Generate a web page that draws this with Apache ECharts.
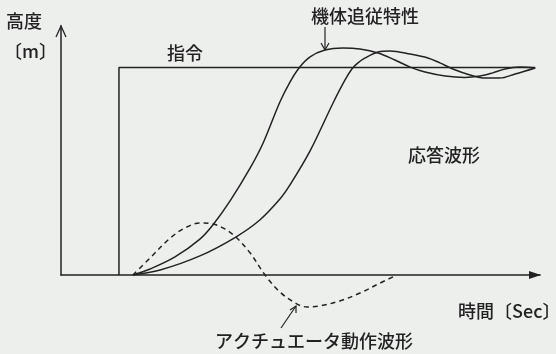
<!DOCTYPE html>
<html><head><meta charset="utf-8">
<script src="https://cdn.jsdelivr.net/npm/echarts@6/dist/echarts.min.js"></script>
<style>html,body{margin:0;padding:0;background:#edefed}#c{width:556px;height:354px}</style>
</head><body><div id="c"></div>
<script>
// time axis (arbitrary units 0..100), height axis (command level = 10)
const commandX = [12.1, 12.1, 99.0];
const commandY = [0, 10, 10];

const trackX = [15.0,18.6,23.8,29.0,31.7,35.3,39.5,42.2,45.7,47.8,49.7,52.0,55.1,58.9,62.4,66.2,69.7,72.9,76.0,80.2,84.3,87.5,90.0,92.7,95.8,99.0];
const trackY = [0,0.29,0.87,1.73,2.41,3.57,5.16,6.36,8.34,9.30,9.98,10.51,10.84,10.94,10.89,10.70,10.36,10.02,9.78,9.59,9.52,9.59,9.73,9.93,10.02,9.98];

const respX = [15.0,20.7,29.0,36.5,41.5,45.7,47.8,52.0,56.8,59.3,60.8,62.0,63.5,66.2,68.7,72.9,76.6,79.1,81.8,85.4,88.5,91.6,94.8,99.0];
const respY = [0,0.24,0.92,1.83,2.65,3.66,4.34,5.98,8.29,9.40,9.95,10.22,10.46,10.75,10.80,10.65,10.46,10.22,9.93,9.64,9.49,9.49,9.69,9.98];

const actX = [15.0,18.6,22.8,25.9,29.0,31.7,34.2,36.5,39.5,42.6,45.7,49.3,51.4,54.1,58.2,62.4,66.6,69.7];
const actY = [0,0.82,1.78,2.27,2.51,2.46,2.22,1.83,1.06,0,-0.82,-1.40,-1.54,-1.49,-1.25,-0.87,-0.39,-0.05];

const labels = {
  yName: '高度', yUnit: '〔m〕', xName: '時間〔Sec〕',
  command: '指令', track: '機体追従特性', resp: '応答波形', act: 'アクチュエータ動作波形'
};

const zip = (xs, ys) => xs.map((x, i) => [x, ys[i]]);
const ink = '#222';
const font = '"Noto Sans CJK JP", "Noto Sans CJK SC", sans-serif';

const chart = echarts.init(document.getElementById('c'));
const txt = (x, y, s, size) => ({type:'text', left:x, top:y, style:{text:s, fill:ink, font: '500 ' + size + 'px ' + font}});
const curve = {type:'line', symbol:'none', smooth:0.35};

chart.setOption({
  backgroundColor: '#edefed',
  animation: false,
  grid: {left: 61, right: 16, top: 26, bottom: 79},
  xAxis: {type:'value', min:0, max:100, axisLine:{lineStyle:{color:ink, width:1.5}}, axisTick:{show:false}, axisLabel:{show:false}, splitLine:{show:false}},
  yAxis: {type:'value', min:0, max:12, axisLine:{show:true, lineStyle:{color:ink, width:1.5}}, axisTick:{show:false}, axisLabel:{show:false}, splitLine:{show:false}},
  series: [
    {type:'line', data: zip(commandX, commandY), symbol:'none', lineStyle:{color:ink, width:1.5}},
    Object.assign({}, curve, {data: zip(trackX, trackY), lineStyle:{color:ink, width:1.5}}),
    Object.assign({}, curve, {data: zip(respX, respY), lineStyle:{color:ink, width:1.5}}),
    Object.assign({}, curve, {data: zip(actX, actY), clip:false, lineStyle:{color:ink, width:1.5, type:[5,4]}})
  ],
  graphic: [
    {type:'polyline', shape:{points:[[56,37],[61,26],[66,37]]}, style:{stroke:ink, lineWidth:1.3, fill:null}},
    {type:'polygon', shape:{points:[[541,275],[529,271],[529,279]]}, style:{fill:ink}},
    {type:'polyline', shape:{points:[[325,27],[325,50]]}, style:{stroke:ink, lineWidth:1.2, fill:null}},
    {type:'polyline', shape:{points:[[321,43],[325,50],[329,43]]}, style:{stroke:ink, lineWidth:1.2, fill:null}},
    {type:'polyline', shape:{points:[[281,328],[296,306]]}, style:{stroke:ink, lineWidth:1.2, fill:null}},
    {type:'polyline', shape:{points:[[290,310],[296,306],[296,313]]}, style:{stroke:ink, lineWidth:1.2, fill:null}},
    txt(6, 12, labels.yName, 18),
    txt(4, 42, labels.yUnit, 18),
    txt(167, 44, labels.command, 18),
    txt(311, 7, labels.track, 18),
    txt(408, 146, labels.resp, 18),
    txt(215, 332, labels.act, 18),
    txt(458, 302, labels.xName, 18)
  ]
});
</script></body></html>
